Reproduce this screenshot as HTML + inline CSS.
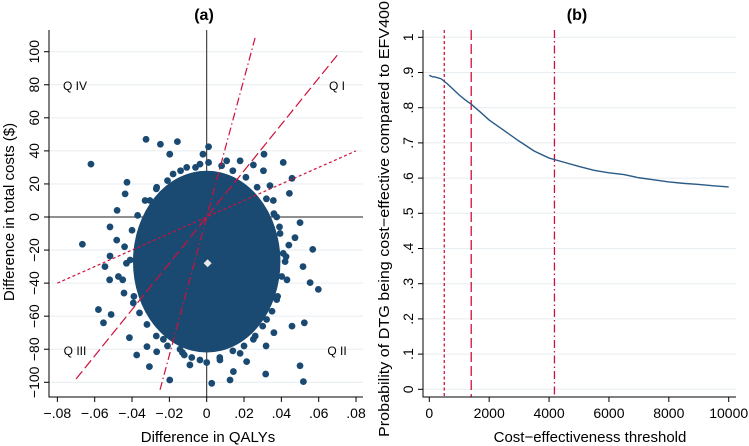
<!DOCTYPE html>
<html><head><meta charset="utf-8"><style>
html,body{margin:0;padding:0;background:#fff;}
svg{display:block;font-family:"Liberation Sans",Arial,sans-serif;}
</style></head><body>
<svg id="chart" width="749" height="446" viewBox="0 0 749 446">
<g id="pa"></g>
<g id="pb"></g>
</svg>
<script>
// ---------- Panel (a) data ----------
const xTicksA = [-0.08,-0.06,-0.04,-0.02,0,0.02,0.04,0.06,0.08];
const xTickLabelsA = ["\u2212.08","\u2212.06","\u2212.04","\u2212.02","0",".02",".04",".06",".08"];
const yTicksA = [-100,-80,-60,-40,-20,0,20,40,60,80,100];
const yTickLabelsA = ["\u2212100","\u221280","\u221260","\u221240","\u221220","0","20","40","60","80","100"];
const pointsX = [-.0325,-.0248,-.0157,-.062,-.0666,-.0198,.001,-.002,.0307,.041,.0457,-.0427,-.0437,-.048,-.0518,-.0482,-.0518,-.0545,-.052,-.058,-.0553,-.0512,-.0414,-.0307,-.0198,.0027,.0125,.0143,.0316,.05,.0518,.0523,.0598,.0554,.05,.0568,.0516,.0473,.0443,.0425,.0457,.036,.0318,.0214,-.009,-.012,-.0268,-.032,-.0375,-.0232,-.0393,-.0443,-.0473,-.041,-.0357,-.0304,-.0268,-.018,-.0107,-.0036,.0107,.0179,.025,.0304,.0339,.0357,.0375,.0393,.041,.0402,.0375,.0321,.025,.0179,.0071,-.0036,-.0143,
 .042,.039,.032,.021,.008,-.006,-.021,-.033,-.040,-.043,-.039,-.032,-.021,-.008,.007,.020,.030,.038,
 .044,.036,.027,.014,.001,-.014,-.027,-.037,-.044,-.045,-.036,-.027,-.013,.000,.014,.026,.035,.043];
const pointsY = [47,44,45.6,32,-16.5,38,42.5,38,38,33,23.4,21,14,4,-6,-14,-23.6,-30,-38,-56,-64,-59,-73,-90.5,-98.6,-100.6,-98.6,-93.5,-95,-90,-99.6,-64,-43.8,-39.7,-3.4,-19.6,-30,-12.5,14.3,-24,-66,-70,-78,-87.5,-89.5,-83.5,-81.5,-78.4,-83.5,-74,-52,-46,-36,-26,-10,10,18,26,30,32,34,34,31.5,28,19,10,0,-10,-22,-36,-50,-62,-74,-82.5,-86.5,-86.5,-80,
 -27,-6,11,24,31,30,22,10,-8,-28,-48,-65,-78,-85,-85,-78,-66,-48,
 -17,2,18,28,33,28,17,1,-18,-38,-58,-72,-82,-88,-81,-72,-57,-38];
const coreCenter = [0.0,-27];
const coreRadius = [0.0395,55];
const meanPoint = [0.0005,-28];
const thresholds = [500,1400,4180];
const lineExtentX = [[-0.08,0.08],[-0.07,0.07],[-0.025,0.026]];

// ---------- Panel (b) data ----------
const wtp = [0,100,200,400,600,800,1000,1200,1400,1700,2000,2500,3000,3500,4000,4500,5000,5500,6000,6500,7000,7500,8000,8500,9000,9500,10000];
const prob = [.892,.888,.887,.882,.868,.852,.836,.822,.81,.788,.765,.735,.705,.677,.657,.645,.633,.622,.615,.61,.601,.595,.589,.585,.582,.578,.575];
const xTicksB = [0,2000,4000,6000,8000,10000];
const yTicksB = [0,.1,.2,.3,.4,.5,.6,.7,.8,.9,1];
const yTickLabelsB = ["0",".1",".2",".3",".4",".5",".6",".7",".8",".9","1"];

const NS="http://www.w3.org/2000/svg";
const NAVY="#1a4a72", RED="#d0103a", GRID="#e6eef1";
function mk(parent,tag,attrs){const e=document.createElementNS(NS,tag);for(const k in attrs)e.setAttribute(k,attrs[k]);parent.appendChild(e);return e;}

// axes A
const ax=v=>206.7+v*1866.7;
const ay=v=>217-v*1.653;
const pa=document.getElementById('pa');
yTicksA.forEach((t,i)=>{
  const g=mk(pa,'line',{x1:49,x2:363,y1:ay(t),y2:ay(t),stroke:GRID,'stroke-width':1});
  
  
  const tk=mk(pa,'line',{x1:44,x2:49,y1:ay(t),y2:ay(t),stroke:'#000','stroke-width':1});
  
  
  const tx=mk(pa,'text',{x:0,y:0,'font-size':14,'text-anchor':'middle',transform:`translate(39,${ay(t)}) rotate(-90)`});
  tx.textContent=yTickLabelsA[i];
  
  
});
xTicksA.forEach((t,i)=>{
  const tk=mk(pa,'line',{x1:ax(t),x2:ax(t),y1:397,y2:402,stroke:'#000','stroke-width':1});
  
  
  const tx=mk(pa,'text',{x:ax(t),y:418,'font-size':14,'text-anchor':'middle'});
  tx.textContent=xTickLabelsA[i];
  
  
});
let l=mk(pa,'line',{x1:ax(0),x2:ax(0),y1:30,y2:397,stroke:'#222','stroke-width':1});


l=mk(pa,'line',{x1:49,x2:363,y1:ay(0),y2:ay(0),stroke:'#222','stroke-width':1});


const core=mk(pa,'ellipse',{cx:ax(coreCenter[0]),cy:ay(coreCenter[1]),rx:coreRadius[0]*1866.7,ry:coreRadius[1]*1.653,fill:NAVY});


pointsX.forEach((x,i)=>{
  const c=mk(pa,'circle',{cx:ax(x),cy:ay(pointsY[i]),r:3.4,fill:NAVY});
  
  
});
const mx=ax(meanPoint[0]),my=ay(meanPoint[1]);
const d=mk(pa,'polygon',{points:`${mx},${my-4} ${mx+4},${my} ${mx},${my+4} ${mx-4},${my}`,fill:'#e8e8e8'});


const dashes=['3,2.5','10,4','8,3,1.5,3'];
thresholds.forEach((k,i)=>{
  const [x0,x1]=lineExtentX[i];
  const ln=mk(pa,'line',{x1:ax(x0),y1:ay(k*x0),x2:ax(x1),y2:ay(k*x1),stroke:RED,'stroke-width':1.2,'stroke-dasharray':dashes[i]});
  
  
});
l=mk(pa,'path',{d:'M49,30 V397 H363',fill:'none',stroke:'#000','stroke-width':1});


[['Q IV',75,85],['Q I',337,85],['Q III',75,350],['Q II',337,350]].forEach(q=>{
  const t=mk(pa,'text',{x:q[1],y:q[2]+5,'font-size':12,'text-anchor':'middle'});
  t.textContent=q[0];
  
  
});
let t=mk(pa,'text',{x:204,y:20,'font-size':16,'font-weight':'bold','text-anchor':'middle'});
t.textContent='(a)';
t=mk(pa,'text',{x:208,y:442,'font-size':15,'text-anchor':'middle'});
t.textContent='Difference in QALYs';
t=mk(pa,'text',{x:0,y:0,'font-size':15,'text-anchor':'middle',transform:'translate(14,212) rotate(-90)'});
t.textContent='Difference in total costs ($)';

// axes B
const bx=v=>429.3+v*0.02994;
const by=v=>389.3-v*352;
const pb=document.getElementById('pb');
yTicksB.forEach((v,i)=>{
  const g=mk(pb,'line',{x1:423,x2:736,y1:by(v),y2:by(v),stroke:GRID,'stroke-width':1});
  
  
  const tk=mk(pb,'line',{x1:418,x2:423,y1:by(v),y2:by(v),stroke:'#000','stroke-width':1});
  
  
  const tx=mk(pb,'text',{x:0,y:0,'font-size':14,'text-anchor':'middle',transform:`translate(413,${by(v)}) rotate(-90)`});
  tx.textContent=yTickLabelsB[i];
  
  
});
xTicksB.forEach(v=>{
  const tk=mk(pb,'line',{x1:bx(v),x2:bx(v),y1:397,y2:402,stroke:'#000','stroke-width':1});
  
  
  const tx=mk(pb,'text',{x:bx(v),y:418,'font-size':14,'text-anchor':'middle'});
  tx.textContent=String(v);
  
  
});
thresholds.forEach((k,i)=>{
  const ln=mk(pb,'line',{x1:bx(k),x2:bx(k),y1:30,y2:397,stroke:RED,'stroke-width':1.3,'stroke-dasharray':dashes[i]});
  
  
});
const curve=mk(pb,'polyline',{points:wtp.map((w,i)=>bx(w)+','+by(prob[i])).join(' '),fill:'none',stroke:'#2a5a86','stroke-width':1.4});


l=mk(pb,'path',{d:'M423,30 V397 H736',fill:'none',stroke:'#000','stroke-width':1});


t=mk(pb,'text',{x:577,y:20,'font-size':16,'font-weight':'bold','text-anchor':'middle'});
t.textContent='(b)';
t=mk(pb,'text',{x:590,y:442,'font-size':15,'text-anchor':'middle'});
t.textContent='Cost\u2212effectiveness threshold';
t=mk(pb,'text',{x:0,y:0,'font-size':15,'text-anchor':'middle',textLength:436,lengthAdjust:'spacingAndGlyphs',transform:'translate(389,219) rotate(-90)'});
t.textContent='Probability of DTG being cost\u2212effective compared to EFV400';
</script>
</body></html>
